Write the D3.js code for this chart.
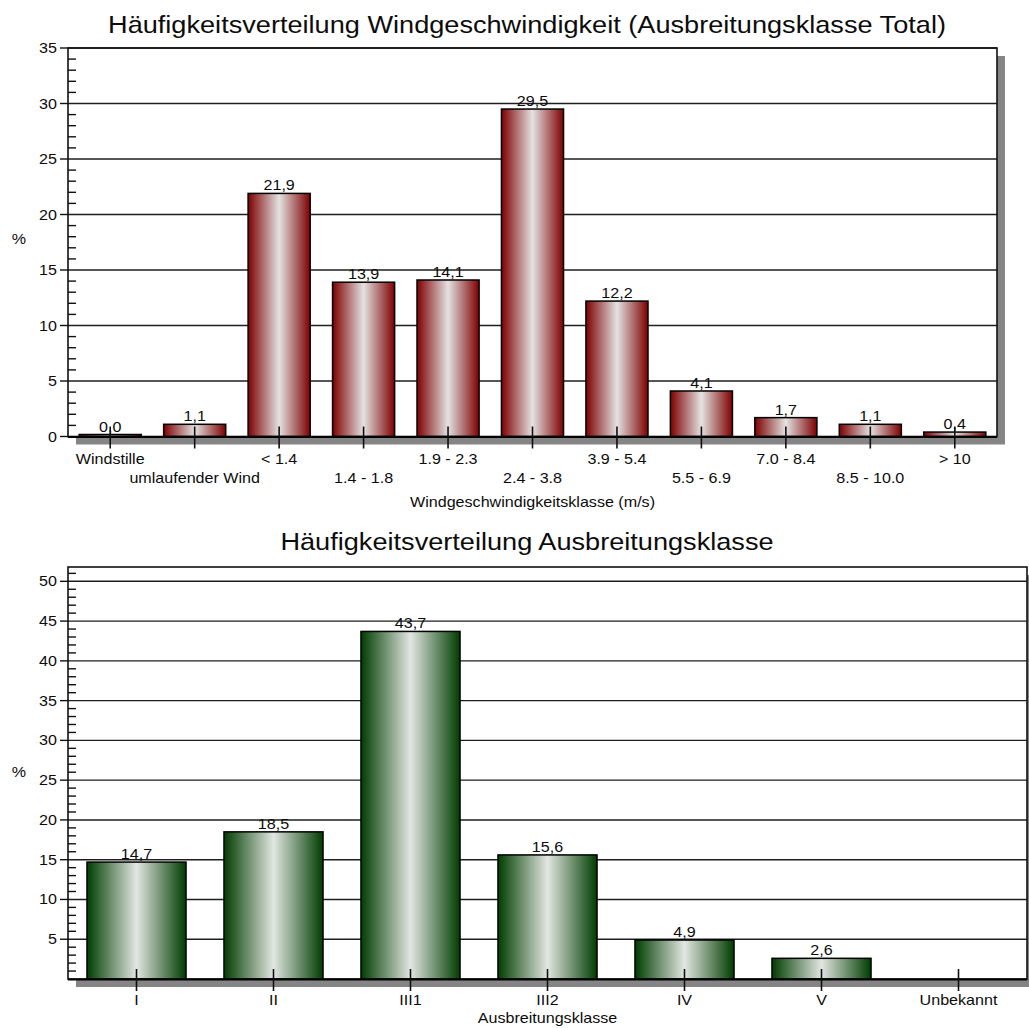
<!DOCTYPE html>
<html>
<head>
<meta charset="utf-8">
<script src="https://cdn.jsdelivr.net/npm/d3@7"></script>
<style>
  body { margin: 0; background: #fff; }
  text { font-family: "Liberation Sans", Arial, sans-serif; fill: #0c0c0c; }
</style>
</head>
<body>
<div id="canvas"></div>
<script>
"use strict"

// data
let windClasses = ["Windstille", "umlaufender Wind", "< 1.4", "1.4 - 1.8", "1.9 - 2.3", "2.4 - 3.8",
                   "3.9 - 5.4", "5.5 - 6.9", "7.0 - 8.4", "8.5 - 10.0", "> 10"]
let windValues = [0.0, 1.1, 21.9, 13.9, 14.1, 29.5, 12.2, 4.1, 1.7, 1.1, 0.4]
let windTicks = [0, 5, 10, 15, 20, 25, 30, 35]

let stabClasses = ["I", "II", "III1", "III2", "IV", "V", "Unbekannt"]
let stabValues = [14.7, 18.5, 43.7, 15.6, 4.9, 2.6, null]
let stabTicks = [5, 10, 15, 20, 25, 30, 35, 40, 45, 50]

let svgWidth = 1029
let svgHeight = 1028
let stretch = 1.15   // text in the reference is wider than plain Arial

let drawing = d3.select("#canvas")
    .append("svg")
    .attr("width", svgWidth)
    .attr("height", svgHeight)

let defs = drawing.append("defs")

function makeGradient(id, edge, mid) {
    let g = defs.append("linearGradient")
        .attr("id", id)
        .attr("x1", "0%").attr("x2", "100%")
        .attr("y1", "0%").attr("y2", "0%")
    g.append("stop").attr("offset", "0%").attr("stop-color", edge)
    g.append("stop").attr("offset", "50%").attr("stop-color", mid)
    g.append("stop").attr("offset", "100%").attr("stop-color", edge)
}
makeGradient("redBar", "#7e0000", "#e4e2e2")
makeGradient("greenBar", "#003d00", "#e2e6e2")

function label(parent, x, y, str, size, anchor) {
    return parent.append("text")
        .attr("transform", `translate(${x},${y}) scale(${stretch},1)`)
        .attr("text-anchor", anchor || "middle")
        .attr("font-size", size)
        .text(str)
}

function drawChart(opt) {
    let g = drawing.append("g")
    let left = opt.left, right = opt.right, top = opt.top, bottom = opt.bottom

    // title
    label(g, opt.titleX, opt.titleY, opt.title, 23.6)

    // shadow + plot background
    g.append("rect")
        .attr("x", left + 8).attr("y", top + 8)
        .attr("width", right - left).attr("height", bottom - top)
        .attr("fill", "#858585")
    g.append("rect")
        .attr("x", left).attr("y", top)
        .attr("width", right - left).attr("height", bottom - top)
        .attr("fill", "#fff")

    let x = d3.scaleBand()
        .domain(opt.categories)
        .range([left, right])
        .paddingInner(opt.pad)
        .paddingOuter(opt.pad / 2)

    let y = d3.scaleLinear()
        .domain([0, opt.yMax])
        .range([bottom, top])

    // gridlines
    g.selectAll(".grid")
        .data(opt.ticks.filter(d => d > 0))
        .enter().append("line")
        .attr("x1", left).attr("x2", right)
        .attr("y1", d => y(d)).attr("y2", d => y(d))
        .attr("stroke", "#1e1e1e")
        .attr("stroke-width", 1.4)

    // minor ticks every unit
    let minor = d3.range(1, Math.floor(opt.yMax) + 1).filter(d => d % 5 !== 0)
    g.selectAll(".minor")
        .data(minor)
        .enter().append("line")
        .attr("x1", left).attr("x2", left + 8)
        .attr("y1", d => y(d)).attr("y2", d => y(d))
        .attr("stroke", "#111")
        .attr("stroke-width", 1.4)

    // major ticks and labels
    g.selectAll(".major")
        .data(opt.ticks)
        .enter().append("line")
        .attr("x1", left - 8).attr("x2", left)
        .attr("y1", d => y(d)).attr("y2", d => y(d))
        .attr("stroke", "#111")
        .attr("stroke-width", 1.4)
    opt.ticks.forEach(d => {
        label(g, 57, y(d) + 5, d, 14, "end")
    })

    // bars
    let bars = opt.categories.map((c, i) => ({ c: c, v: opt.values[i] })).filter(d => d.v !== null)
    g.selectAll(".bar")
        .data(bars)
        .enter().append("rect")
        .attr("x", d => x(d.c))
        .attr("width", x.bandwidth())
        .attr("y", d => Math.min(y(d.v), bottom - 2))
        .attr("height", d => Math.max(bottom - y(d.v), 2))
        .attr("fill", `url(#${opt.gradient})`)
        .attr("stroke", "#000")
        .attr("stroke-width", 1.5)

    bars.forEach(d => {
        label(g, x(d.c) + x.bandwidth() / 2, Math.min(y(d.v), bottom - 2) - 3,
              d3.format(".1f")(d.v).replace(".", ","), 14)
    })

    // plot frame
    g.append("rect")
        .attr("x", left).attr("y", top)
        .attr("width", right - left).attr("height", bottom - top)
        .attr("fill", "none")
        .attr("stroke", "#111")
        .attr("stroke-width", 1.6)
    g.append("line")
        .attr("x1", left).attr("x2", right)
        .attr("y1", bottom + 0.5).attr("y2", bottom + 0.5)
        .attr("stroke", "#000")
        .attr("stroke-width", 2.2)

    // category ticks
    g.selectAll(".xtick")
        .data(opt.categories)
        .enter().append("line")
        .attr("x1", d => x(d) + x.bandwidth() / 2)
        .attr("x2", d => x(d) + x.bandwidth() / 2)
        .attr("y1", bottom - 10).attr("y2", bottom + 12)
        .attr("stroke", "#111")
        .attr("stroke-width", 1.6)

    opt.categories.forEach((c, i) => {
        let row = opt.stagger && i % 2 === 1 ? opt.labelStep : 0
        label(g, x(c) + x.bandwidth() / 2, opt.labelY + row, c, 14)
    })

    label(g, (left + right) / 2, opt.axisTitleY, opt.axisTitle, 14)
    label(g, 19, opt.percentY, "%", 14)
}

drawChart({
    title: "Häufigkeitsverteilung Windgeschwindigkeit (Ausbreitungsklasse Total)",
    titleX: 527, titleY: 33,
    categories: windClasses, values: windValues, ticks: windTicks, yMax: 35,
    left: 68, right: 997, top: 48, bottom: 436.5, pad: 0.265,
    gradient: "redBar",
    stagger: true, labelY: 464, labelStep: 19,
    axisTitle: "Windgeschwindigkeitsklasse (m/s)", axisTitleY: 507,
    percentY: 244
})

drawChart({
    title: "Häufigkeitsverteilung Ausbreitungsklasse",
    titleX: 527, titleY: 550,
    categories: stabClasses, values: stabValues, ticks: stabTicks, yMax: 51.8,
    left: 68, right: 1027, top: 567, bottom: 979, pad: 0.277,
    gradient: "greenBar",
    stagger: false, labelY: 1005, labelStep: 0,
    axisTitle: "Ausbreitungsklasse", axisTitleY: 1023,
    percentY: 777
})
</script>
</body>
</html>
